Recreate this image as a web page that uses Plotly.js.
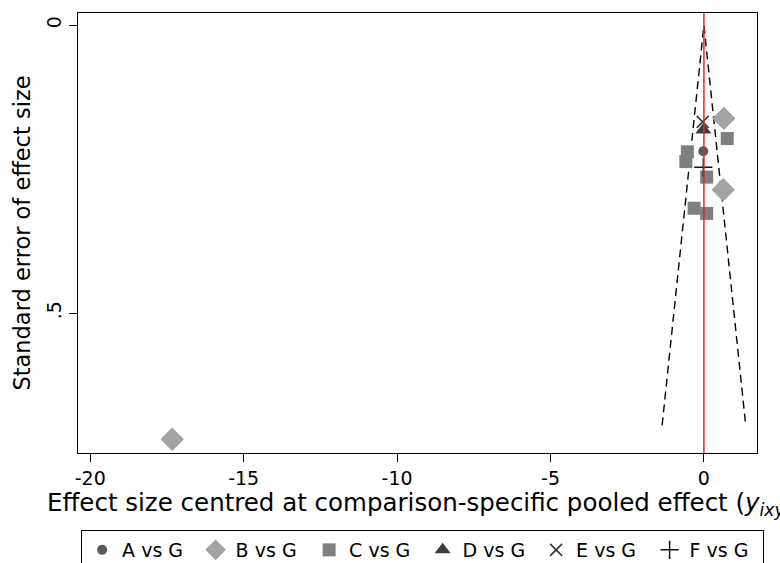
<!DOCTYPE html>
<html>
<head>
<meta charset="utf-8">
<script src="https://cdn.plot.ly/plotly-3.0.1.min.js"></script>
<style>html,body{margin:0;padding:0;background:#fff;}#chart{width:780px;height:563px;}</style>
</head>
<body>
<div id="chart"></div>
<script>
// Data
const seriesNames = ["A vs G", "B vs G", "C vs G", "D vs G", "E vs G", "F vs G"];
const aX = [-0.02];             const aY = [0.219];
const bX = [0.65, 0.63, -17.33]; const bY = [0.162, 0.286, 0.719];
const cX = [0.76, -0.54, -0.59, 0.09, -0.32, 0.09];
const cY = [0.197, 0.220, 0.237, 0.264, 0.318, 0.327];
const dX = [-0.02];             const dY = [0.182];
const eX = [-0.04];             const eY = [0.168];
const fX = [-0.02];             const fY = [0.247];
const funnelSE = [0.695, 0, 0.695];
const funnelSide = [-1, 0, 1];
const xTickVals = [-20, -15, -10, -5, 0];
const xTickText = ["-20", "-15", "-10", "-5", "0"];
const yTickVals = [0, 0.5];
const yTickText = ["0", ".5"];

const FONT = "DejaVu Sans, Noto Sans, sans-serif";

const funnelX = funnelSE.map((s, i) => funnelSide[i] * 1.96 * s);

const traces = [
  {x: funnelX, y: funnelSE, mode: "lines", showlegend: false, hoverinfo: "skip",
   line: {color: "#000", width: 1.4, dash: "8px,5px"}},
  {x: aX, y: aY, name: seriesNames[0], mode: "markers", type: "scatter",
   marker: {symbol: "circle", size: 10, color: "#5a5a5a"}},
  {x: bX, y: bY, name: seriesNames[1], mode: "markers", type: "scatter",
   marker: {symbol: "diamond", size: 18, color: "#a3a3a3"}},
  {x: cX, y: cY, name: seriesNames[2], mode: "markers", type: "scatter",
   marker: {symbol: "square", size: 13, color: "#7f7f7f"}},
  {x: dX, y: dY, name: seriesNames[3], mode: "markers", type: "scatter",
   marker: {symbol: "triangle-up", size: 14, color: "#3c3c3c"}},
  {x: eX, y: eY, name: seriesNames[4], mode: "markers", type: "scatter",
   marker: {symbol: "x-thin-open", size: 12, color: "#333", line: {color: "#333", width: 1.5}}},
  {x: fX, y: fY, name: seriesNames[5], mode: "markers", type: "scatter",
   marker: {symbol: "cross-thin-open", size: 13, color: "#111", line: {color: "#111", width: 1.5}}}
];

const layout = {
  width: 780, height: 563,
  margin: {l: 78, r: 23, t: 13, b: 110},
  paper_bgcolor: "#fff", plot_bgcolor: "#fff",
  font: {family: FONT, color: "#000"},
  showlegend: true,
  xaxis: {
    range: [-20.4, 1.73], zeroline: false, showgrid: false,
    showline: true, linecolor: "#000", linewidth: 1.2, mirror: true,
    ticks: "outside", ticklen: 8, tickcolor: "#000",
    tickvals: xTickVals, ticktext: xTickText,
    tickfont: {size: 19, family: FONT}
  },
  yaxis: {
    range: [0.743, -0.021], zeroline: false, showgrid: false,
    showline: true, linecolor: "#000", linewidth: 1.2, mirror: true,
    ticks: "outside", ticklen: 8, tickcolor: "#000",
    tickvals: yTickVals, ticktext: yTickText, tickangle: -90,
    tickfont: {size: 19, family: FONT},
    title: {text: "Standard error of effect size", font: {size: 22.5, family: FONT}, standoff: 6}
  },
  shapes: [
    {type: "line", xref: "x", yref: "paper", x0: 0, x1: 0, y0: 0, y1: 1,
     line: {color: "#e8262a", width: 1.5}}
  ],
  annotations: [
    {xref: "paper", yref: "paper", x: -0.048, y: -0.075, xanchor: "left", yanchor: "top",
     showarrow: false, align: "left",
     text: "Effect size centred at comparison-specific pooled effect (<i>y</i><sub><i>ixy</i></sub>-<i>μ</i><sub><i>xy</i></sub>)",
     font: {size: 24.5, family: FONT, color: "#000"}}
  ],
  legend: {
    orientation: "h", xref: "container", yref: "container",
    x: 0.104, xanchor: "left", y: 0.0586, yanchor: "top",
    bordercolor: "#000", borderwidth: 1, bgcolor: "#fff",
    font: {size: 19, family: FONT}, itemwidth: 30,
    entrywidth: 68.5, entrywidthmode: "pixels"
  }
};

Plotly.newPlot("chart", traces, layout, {displayModeBar: false, staticPlot: true});
</script>
</body>
</html>
